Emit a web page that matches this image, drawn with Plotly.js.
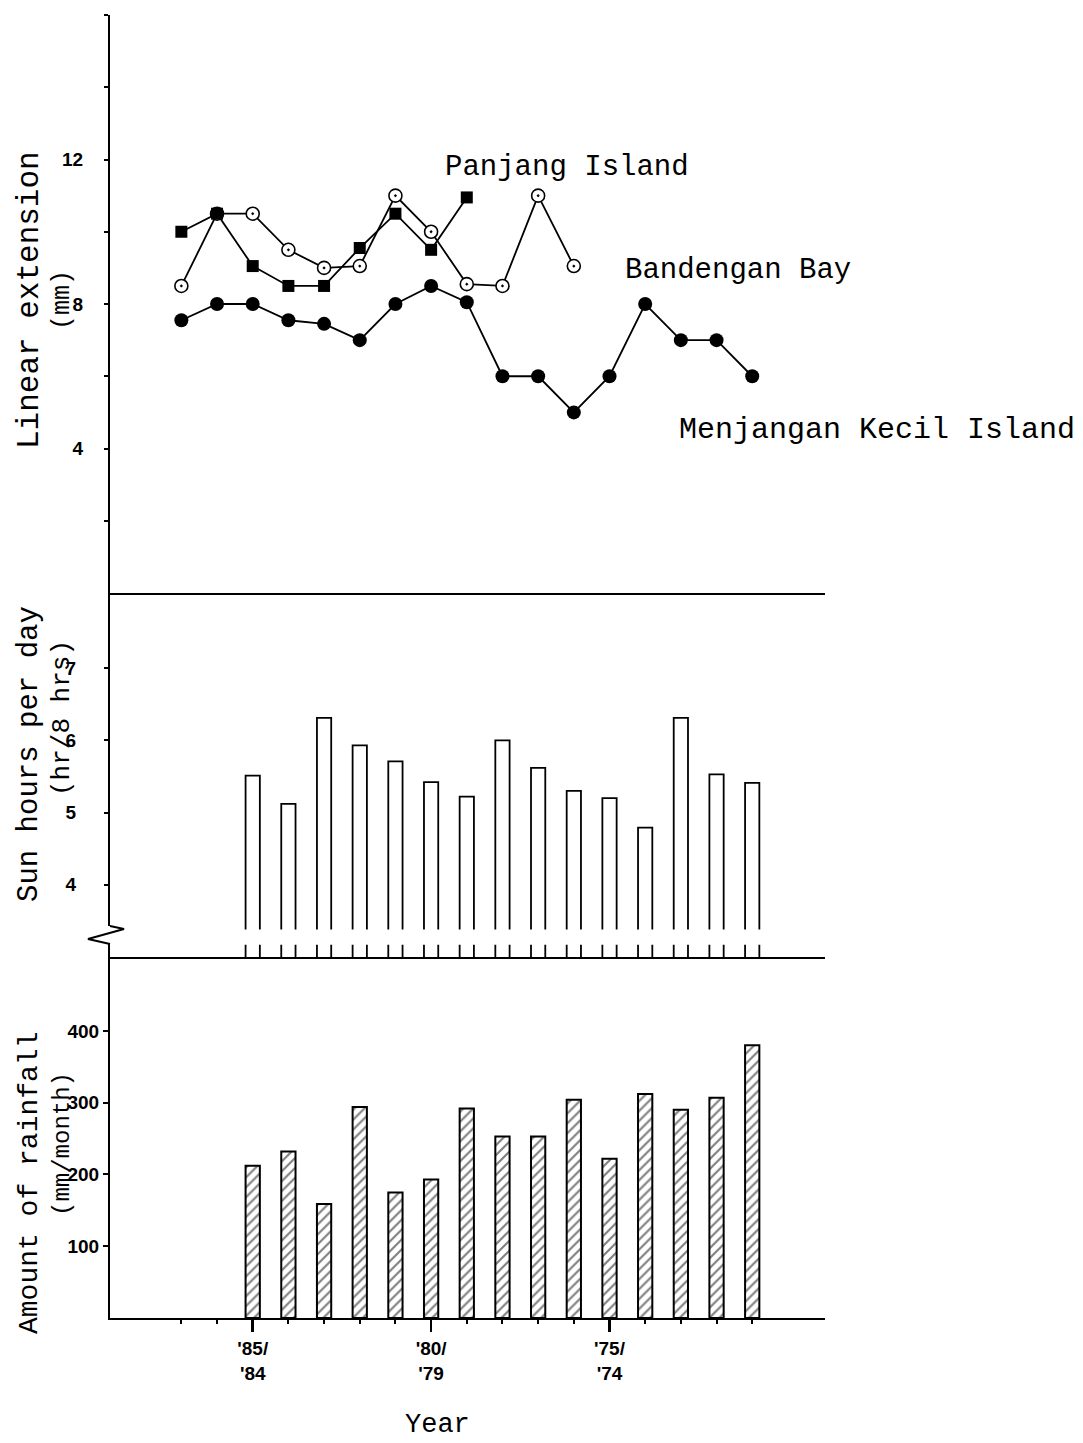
<!DOCTYPE html>
<html>
<head>
<meta charset="utf-8">
<script src="https://cdn.plot.ly/plotly-3.0.1.min.js"></script>
<style>
  html, body { margin: 0; padding: 0; background: #ffffff; }
  #chart { width: 1083px; height: 1443px; }
</style>
</head>
<body>
<div id="chart"></div>
<script>
// ---------------- data ----------------
// season index: 0 = '85/'84, 5 = '80/'79, 10 = '75/'74
const lineSeason = [-2, -1, 0, 1, 2, 3, 4, 5, 6, 7, 8, 9, 10, 11, 12, 13, 14];
const menjanganKecil = [7.55, 8.0, 8.0, 7.55, 7.45, 7.0, 8.0, 8.5, 8.05, 6.0, 6.0, 5.0, 6.0, 8.0, 7.0, 7.0, 6.0];
const bandenganSeason = [-2, -1, 0, 1, 2, 3, 4, 5, 6, 7, 8, 9];
const bandenganBay = [8.5, 10.5, 10.5, 9.5, 9.0, 9.05, 11.0, 10.0, 8.55, 8.5, 11.0, 9.05];
const panjangSeason = [-2, -1, 0, 1, 2, 3, 4, 5, 6];
const panjangIsland = [10.0, 10.5, 9.05, 8.5, 8.5, 9.55, 10.5, 9.5, 10.95];

const barSeason = [0, 1, 2, 3, 4, 5, 6, 7, 8, 9, 10, 11, 12, 13, 14];
const sunHours = [5.51, 5.12, 6.31, 5.93, 5.71, 5.42, 5.22, 6.0, 5.62, 5.30, 5.20, 4.79, 6.31, 5.53, 5.41];
const rainfall = [212, 232, 159, 294, 175, 193, 292, 253, 253, 304, 222, 312, 290, 307, 380];

const yearTickVals = [0, 5, 10];
const yearTickText = ["'85/<br>'84", "'80/<br>'79", "'75/<br>'74"];
const minorTickVals = [-2, -1, 1, 2, 3, 4, 6, 7, 8, 9, 11, 12, 13, 14];
const topTickVals = [2, 4, 6, 8, 10, 12, 14, 16];
const topTickText = ['', '4', '', '8', '', '12', '', ''];
const sunTickVals = [4, 5, 6, 7];
const rainTickVals = [100, 200, 300, 400];

// ---------------- layout geometry ----------------
const W = 1083, H = 1443;
const ML = 110, MR = 258, MT = 15, MB = 125;
const PW = W - ML - MR, PH = H - MT - MB;
const PX = px => (px - ML) / PW;
const PY = py => (H - MB - py) / PH;

const mono = 'Liberation Mono, Courier New, monospace';
const tickFont = { family: 'Liberation Sans, Arial, sans-serif', size: 19, color: '#000', weight: 'bold' };
const xRange = [-4, 16.04];

const lineStyle = { color: '#000', width: 1.8 };

const traces = [
  {
    x: bandenganSeason, y: bandenganBay, xaxis: 'x', yaxis: 'y',
    type: 'scatter', mode: 'lines+markers', name: 'Bandengan Bay',
    line: lineStyle,
    marker: { symbol: 'circle-dot', size: 13, color: '#fff', line: { color: '#000', width: 1.6 } }
  },
  {
    x: panjangSeason, y: panjangIsland, xaxis: 'x', yaxis: 'y',
    type: 'scatter', mode: 'lines+markers', name: 'Panjang Island',
    line: lineStyle,
    marker: { symbol: 'square', size: 12, color: '#000' }
  },
  {
    x: lineSeason, y: menjanganKecil, xaxis: 'x', yaxis: 'y',
    type: 'scatter', mode: 'lines+markers', name: 'Menjangan Kecil Island',
    line: lineStyle,
    marker: { symbol: 'circle', size: 14, color: '#000' }
  },
  {
    x: barSeason, y: sunHours, xaxis: 'x2', yaxis: 'y2',
    type: 'bar', width: 0.4, name: 'Sun hours',
    marker: { color: '#fff', line: { color: '#000', width: 1.8 } }
  },
  {
    x: barSeason, y: rainfall, xaxis: 'x3', yaxis: 'y3',
    type: 'bar', width: 0.4, name: 'Rainfall',
    marker: {
      color: '#fff', line: { color: '#000', width: 2 },
      pattern: { shape: '/', fgcolor: '#000', bgcolor: '#fff', size: 7, solidity: 0.3, fillmode: 'overlay' }
    }
  }
];

const dTop = [PY(593), 1];
const dMid = [PY(957), PY(593)];
const dBot = [0, PY(957)];

const axisLine = { showline: true, linecolor: '#000', linewidth: 2, showgrid: false, zeroline: false };

const layout = {
  width: W, height: H,
  margin: { l: ML, r: MR, t: MT, b: MB, pad: 0 },
  paper_bgcolor: '#fff', plot_bgcolor: '#fff',
  showlegend: false,
  bargap: 0,
  xaxis: Object.assign({}, axisLine, { domain: [0, 1], range: xRange, anchor: 'y', ticks: '', showticklabels: false }),
  xaxis2: Object.assign({}, axisLine, { domain: [0, 1], range: xRange, anchor: 'y2', ticks: '', showticklabels: false }),
  xaxis3: Object.assign({}, axisLine, {
    domain: [0, 1], range: xRange, anchor: 'y3',
    tickmode: 'array', tickvals: yearTickVals, ticktext: yearTickText,
    ticks: 'outside', ticklen: 12, tickwidth: 2.5, tickcolor: '#000',
    tickfont: tickFont,
    minor: { tickvals: minorTickVals, ticks: 'outside', ticklen: 4, tickwidth: 2, tickcolor: '#000', showgrid: false }
  }),
  yaxis: Object.assign({}, axisLine, {
    domain: dTop, range: [0, 16], anchor: 'x',
    tickmode: 'array', tickvals: topTickVals, ticktext: topTickText,
    ticks: 'outside', ticklen: 4, tickwidth: 2, tickcolor: '#000',
    tickfont: tickFont, ticklabelstandoff: 17
  }),
  yaxis2: Object.assign({}, axisLine, {
    domain: dMid, range: [3.0, 8.04], anchor: 'x2',
    tickmode: 'array', tickvals: sunTickVals,
    ticks: 'outside', ticklen: 4, tickwidth: 2, tickcolor: '#000',
    tickfont: tickFont, ticklabelstandoff: 24
  }),
  yaxis3: Object.assign({}, axisLine, {
    domain: dBot, range: [0, 503], anchor: 'x3',
    tickmode: 'array', tickvals: rainTickVals,
    ticks: 'outside', ticklen: 5, tickwidth: 2, tickcolor: '#000',
    tickfont: tickFont, ticklabelstandoff: 0
  }),
  shapes: [
    // gap that breaks the sun-hour bars
    { type: 'rect', xref: 'x2', yref: 'y2', x0: -0.5, x1: 14.5, y0: 3.17, y1: 3.38,
      fillcolor: '#fff', line: { width: 0 }, layer: 'above' },
    // hide axis segment at the break
    { type: 'rect', xref: 'paper', yref: 'paper', x0: PX(104), x1: PX(116), y0: PY(944), y1: PY(926),
      fillcolor: '#fff', line: { width: 0 }, layer: 'above' },
    // zig-zag break symbol
    { type: 'path', xref: 'paper', yref: 'paper',
      path: `M ${PX(110)},${PY(926)} L ${PX(124)},${PY(929)} L ${PX(88)},${PY(939)} L ${PX(110)},${PY(944)}`,
      line: { color: '#000', width: 2 }, layer: 'above' }
  ],
  annotations: [
    { text: 'Panjang Island', xref: 'x', yref: 'y', x: 5.33, y: 11.79, xanchor: 'left', yanchor: 'middle',
      showarrow: false, font: { family: mono, size: 29, color: '#000' } },
    { text: 'Bandengan Bay', xref: 'x', yref: 'y', x: 10.38, y: 8.94, xanchor: 'left', yanchor: 'middle',
      showarrow: false, font: { family: mono, size: 29, color: '#000' } },
    { text: 'Menjangan Kecil Island', xref: 'x', yref: 'y', x: 11.89, y: 4.51, xanchor: 'left', yanchor: 'middle',
      showarrow: false, font: { family: mono, size: 30, color: '#000' } },
    // axis titles
    { text: 'Linear extension', xref: 'paper', yref: 'paper', x: PX(29), y: PY(300), textangle: -90,
      xanchor: 'center', yanchor: 'middle', showarrow: false, font: { family: mono, size: 31, color: '#000' } },
    { text: '(mm)', xref: 'paper', yref: 'paper', x: PX(62), y: PY(300), textangle: -90,
      xanchor: 'center', yanchor: 'middle', showarrow: false, font: { family: mono, size: 25, color: '#000' } },
    { text: 'Sun hours per day', xref: 'paper', yref: 'paper', x: PX(29), y: PY(754), textangle: -90,
      xanchor: 'center', yanchor: 'middle', showarrow: false, font: { family: mono, size: 29, color: '#000' } },
    { text: '(hr/8 hrs)', xref: 'paper', yref: 'paper', x: PX(62), y: PY(718), textangle: -90,
      xanchor: 'center', yanchor: 'middle', showarrow: false, font: { family: mono, size: 26, color: '#000' } },
    { text: 'Amount of rainfall', xref: 'paper', yref: 'paper', x: PX(29), y: PY(1183), textangle: -90,
      xanchor: 'center', yanchor: 'middle', showarrow: false, font: { family: mono, size: 28, color: '#000' } },
    { text: '(mm/month)', xref: 'paper', yref: 'paper', x: PX(62), y: PY(1144), textangle: -90,
      xanchor: 'center', yanchor: 'middle', showarrow: false, font: { family: mono, size: 24, color: '#000' } },
    { text: 'Year', xref: 'paper', yref: 'paper', x: PX(437), y: PY(1425),
      xanchor: 'center', yanchor: 'middle', showarrow: false, font: { family: mono, size: 27, color: '#000' } }
  ]
};

Plotly.newPlot('chart', traces, layout, { staticPlot: true, displayModeBar: false });
</script>
</body>
</html>
